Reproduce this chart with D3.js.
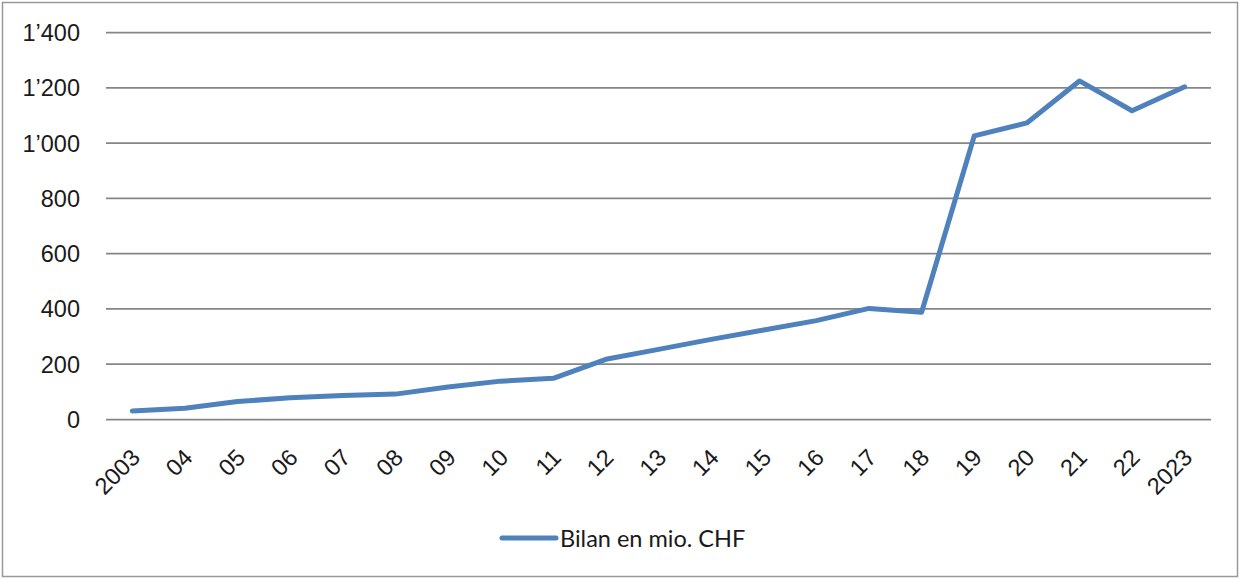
<!DOCTYPE html>
<html>
<head>
<meta charset="utf-8">
<script src="https://cdn.jsdelivr.net/npm/d3@7"></script>
<style>
  html, body { margin: 0; padding: 0; background: #fff; }
  svg { display: block; font-family: Lato, "Liberation Sans", sans-serif; }
</style>
</head>
<body>
<div id="chart"></div>
<script>
let years = ["2003", "04", "05", "06", "07", "08", "09", "10", "11", "12", "13",
    "14", "15", "16", "17", "18", "19", "20", "21", "22", "2023"];
let bilan = [29, 39, 63, 77, 85, 90, 116, 137, 147, 216, 252,
    288, 322, 356, 400, 386, 1024, 1071, 1223, 1115, 1202];
let yTicks = [0, 200, 400, 600, 800, 1000, 1200, 1400];
let seriesName = "Bilan en mio. CHF";

let width = 1240, height = 579;
let margin = { top: 32, right: 29, bottom: 160, left: 106 };
let fontSize = "23.5px";

let svg = d3.select("#chart").append("svg")
    .attr("width", width)
    .attr("height", height);

// cadre
svg.append("rect")
    .attr("x", 2.5).attr("y", 2.5)
    .attr("width", width - 5).attr("height", height - 5)
    .attr("fill", "#fff")
    .attr("stroke", "#999")
    .attr("stroke-width", 1.5);

let x = d3.scaleBand()
    .domain(years)
    .range([margin.left, width - margin.right]);

let y = d3.scaleLinear()
    .domain([0, 1400])
    .range([height - margin.bottom, margin.top]);

let fmt = v => d3.format(",")(v).replace(",", "\u2019");

// grille + axe y
let yAxis = svg.append("g")
    .attr("transform", `translate(${margin.left},0)`)
    .call(d3.axisLeft(y).tickValues(yTicks).tickFormat(fmt)
        .tickSize(-(width - margin.left - margin.right)).tickPadding(26));
yAxis.select(".domain").remove();
yAxis.selectAll(".tick line")
    .attr("stroke", "#868686")
    .attr("stroke-width", 1.75);
yAxis.selectAll(".tick text")
    .attr("fill", "#1a1a1a")
    .attr("dy", "0.36em")
    .style("font-size", fontSize);

// axe x
let xAxis = svg.append("g")
    .attr("transform", `translate(0,${height - margin.bottom})`)
    .call(d3.axisBottom(x).tickSize(0));
xAxis.select(".domain").remove();
xAxis.selectAll(".tick text")
    .attr("fill", "#1a1a1a")
    .style("font-size", fontSize)
    .attr("text-anchor", "end")
    .attr("dy", 0)
    .attr("transform", "translate(7,38) rotate(-45)");

// courbe
let line = d3.line()
    .x((d, i) => x(years[i]) + x.bandwidth() / 2)
    .y(d => y(d));

svg.append("path")
    .datum(bilan)
    .attr("fill", "none")
    .attr("stroke", "#4f81bd")
    .attr("stroke-width", 5)
    .attr("stroke-linejoin", "round")
    .attr("stroke-linecap", "round")
    .attr("d", line);

// légende
let legend = svg.append("g").attr("transform", "translate(502,538)");
legend.append("line")
    .attr("x1", 0).attr("x2", 54)
    .attr("y1", 0).attr("y2", 0)
    .attr("stroke", "#4f81bd")
    .attr("stroke-width", 5)
    .attr("stroke-linecap", "round");
legend.append("text")
    .attr("x", 58).attr("y", 9)
    .attr("fill", "#1a1a1a")
    .style("font-size", fontSize)
    .text(seriesName);
</script>
</body>
</html>
